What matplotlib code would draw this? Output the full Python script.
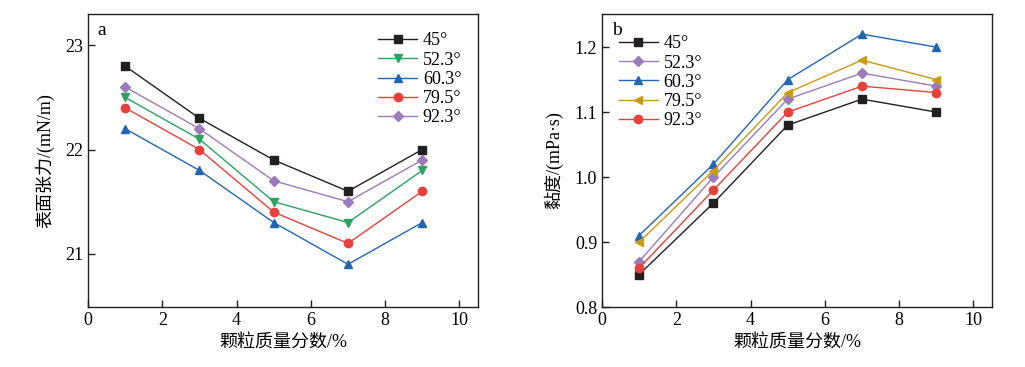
import matplotlib.pyplot as plt
import numpy as np

plt.rcParams['font.family'] = ['Liberation Serif', 'Noto Sans CJK SC']
plt.rcParams['mathtext.fontset'] = 'stix'

x = np.array([1, 3, 5, 7, 9])
angles = ['45°', '52.3°', '60.3°', '79.5°', '92.3°']

# surface tension (mN/m)
st_45 = [22.8, 22.3, 21.9, 21.6, 22.0]
st_52 = [22.5, 22.1, 21.5, 21.3, 21.8]
st_60 = [22.2, 21.8, 21.3, 20.9, 21.3]
st_79 = [22.4, 22.0, 21.4, 21.1, 21.6]
st_92 = [22.6, 22.2, 21.7, 21.5, 21.9]

# viscosity (mPa s)
vi_45 = [0.85, 0.96, 1.08, 1.12, 1.10]
vi_52 = [0.87, 1.00, 1.12, 1.16, 1.14]
vi_60 = [0.91, 1.02, 1.15, 1.22, 1.20]
vi_79 = [0.90, 1.01, 1.13, 1.18, 1.15]
vi_92 = [0.86, 0.98, 1.10, 1.14, 1.13]

black = '#231f20'
green = '#2ca25f'
blue = '#2166b5'
red = '#e8413c'
purple = '#9b7bbd'
gold = '#c99a12'

fig = plt.figure(figsize=(10.25, 3.67), dpi=100)
ax1 = fig.add_axes([88/1025, 1-307/367, 390/1025, 293/367])
ax2 = fig.add_axes([602/1025, 1-307/367, 390/1025, 293/367])

kw = dict(lw=1, ms=6)
ax1.plot(x, st_45, color=black, marker='s', label=angles[0], **kw)
ax1.plot(x, st_52, color=green, marker='v', label=angles[1], **kw)
ax1.plot(x, st_60, color=blue, marker='^', label=angles[2], **kw)
ax1.plot(x, st_79, color=red, marker='o', label=angles[3], **kw)
ax1.plot(x, st_92, color=purple, marker='D', label=angles[4], ms=5, lw=1)

ax2.plot(x, vi_45, color=black, marker='s', label=angles[0], **kw)
ax2.plot(x, vi_52, color=purple, marker='D', label=angles[1], ms=5, lw=1)
ax2.plot(x, vi_60, color=blue, marker='^', label=angles[2], **kw)
ax2.plot(x, vi_79, color=gold, marker='<', label=angles[3], **kw)
ax2.plot(x, vi_92, color=red, marker='o', label=angles[4], **kw)

ax1.set_xlim(0, 10.5)
ax1.set_ylim(20.49, 23.3)
ax1.set_yticks([21, 22, 23])
ax2.set_xlim(0, 10.5)
ax2.set_ylim(0.8, 1.251)
ax2.set_yticks([0.8, 0.9, 1.0, 1.1, 1.2])
ax2.set_yticklabels(['0.8', '0.9', '1.0', '1.1', '1.2'])

for ax in (ax1, ax2):
    ax.set_xticks([0, 2, 4, 6, 8, 10])
    ax.tick_params(direction='in', labelsize=13, length=5, width=1, color=black)
    for s in ax.spines.values():
        s.set_linewidth(1)
        s.set_color(black)
    ax.set_xlabel('颗粒质量分数/%', fontsize=13)

ax1.set_ylabel('表面张力/(mN/m)', fontsize=13, labelpad=8)
ax2.set_ylabel('黏度/(mPa·s)', fontsize=13, labelpad=8)

ax1.text(0.025, 0.93, 'a', transform=ax1.transAxes, fontsize=14)
ax2.text(0.025, 0.93, 'b', transform=ax2.transAxes, fontsize=14)

ax1.legend(loc='upper right', frameon=False, fontsize=13, handlelength=2.2,
           handletextpad=0.3, labelspacing=0.12, borderaxespad=0.3,
           bbox_to_anchor=(0.99, 0.98))
ax2.legend(loc='upper left', frameon=False, fontsize=13, handlelength=2.2,
           handletextpad=0.3, labelspacing=0.12, borderaxespad=0.3,
           bbox_to_anchor=(0.01, 0.97))

fig.savefig('out.png', dpi=100)
